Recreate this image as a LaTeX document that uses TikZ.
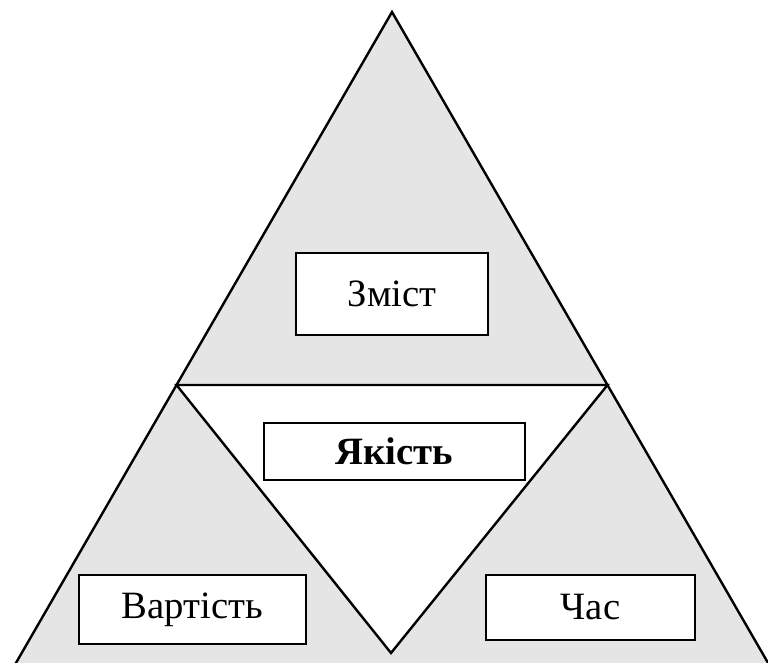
\documentclass[tikz,border=0pt]{standalone}
\usepackage{fontspec}
\setmainfont{Liberation Serif}
\usepackage{tikz}

\begin{document}
\begin{tikzpicture}[x=0.75pt, y=-0.75pt,
	label/.style={draw, fill=white, line width=1.3pt, inner sep=0pt, font=\fontsize{29}{34}\selectfont}]
	\useasboundingbox (0,0) rectangle (768,663);
	\begin{scope}
		\clip (0,0) rectangle (768,663);
		\draw[fill=black!10, line width=1.8pt] (392,12) -- (-17,720) -- (801,720) -- cycle;
	\end{scope}
	\draw[fill=white, line width=1.8pt] (176.5,385) -- (607.5,385) -- (391,653) -- cycle;
	\node (zmist) at (392,294) [label, minimum width=144pt, minimum height=61.5pt] {Зміст};
	\node (yakist) at (394.5,451.5) [label, minimum width=195.75pt, minimum height=42.75pt] {\textbf{Якість}};
	\node (vartist) at (192.5,609.5) [label, minimum width=170.25pt, minimum height=51.75pt] {Вартість};
	\node (chas) at (590.5,607.5) [label, minimum width=156.75pt, minimum height=48.75pt] {Час};
\end{tikzpicture}
\end{document}
